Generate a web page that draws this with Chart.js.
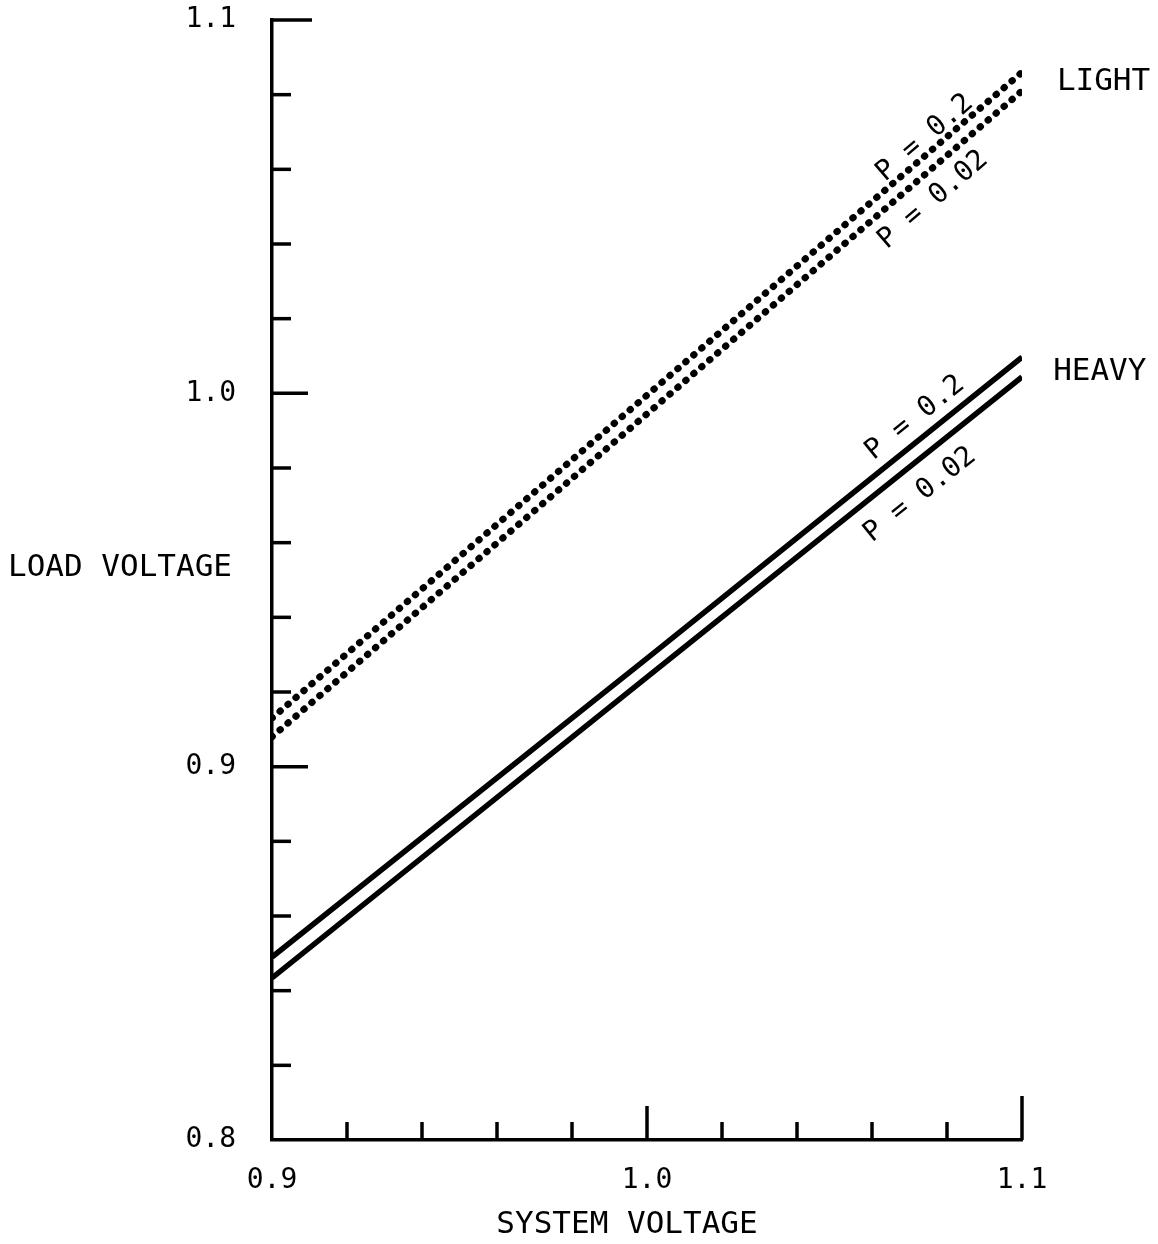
<!DOCTYPE html>
<html>
<head>
<meta charset="utf-8">
<script src="https://cdn.jsdelivr.net/npm/chart.js@4.4.1/dist/chart.umd.min.js"></script>
<style>
body { margin: 0; background: #fff; }
canvas { display: block; }
</style>
</head>
<body>
<canvas id="line-chart" width="1158" height="1244"></canvas>
<script>
// values
const systemVoltage = [0.9, 1.0, 1.1];
const lightP02 = [0.913, 0.9995, 1.086];
const lightP002 = [0.908, 0.9945, 1.081];
const heavyP02 = [0.849, 0.929, 1.0097];
const heavyP002 = [0.8434, 0.924, 1.0044];
const yTickLabels = [0.8, 0.9, 1.0, 1.1];
const xTickLabels = [0.9, 1.0, 1.1];

const FONT = '"DejaVu Sans Mono", monospace';

function pts(vals) {
	return systemVoltage.map((x, i) => ({ x: x, y: vals[i] }));
}
function isLabel(list, v) {
	return list.some(t => Math.abs(t - v) < 1e-6);
}

// text placed on the plot (data coordinates)
const notes = [
	{ text: 'P = 0.2', x: 1.0741, y: 1.0684, series: lightP02 },
	{ text: 'P = 0.02', x: 1.0763, y: 1.0518, series: lightP002 },
	{ text: 'P = 0.2', x: 1.0715, y: 0.9934, series: heavyP02 },
	{ text: 'P = 0.02', x: 1.0728, y: 0.9728, series: heavyP002 }
];
const caseNames = [
	{ text: 'LIGHT', x: 1.1093, y: 1.0834 },
	{ text: 'HEAVY', x: 1.1083, y: 1.0057 }
];

const decor = {
	id: 'decor',
	afterDraw(chart) {
		const ctx = chart.ctx;
		const xs = chart.scales.x, ys = chart.scales.y;
		const area = chart.chartArea;
		ctx.save();
		ctx.strokeStyle = '#000';
		ctx.lineWidth = 3.5;
		ctx.lineCap = 'butt';
		// inward ticks on y axis
		ys.ticks.forEach(t => {
			if (Math.abs(t.value - 0.8) < 1e-6) return;
			const py = ys.getPixelForValue(t.value);
			let len = isLabel(yTickLabels, t.value) ? 36 : 19;
			if (Math.abs(t.value - 1.1) < 1e-6) len = 40;
			ctx.beginPath();
			ctx.moveTo(area.left, py);
			ctx.lineTo(area.left + len, py);
			ctx.stroke();
		});
		// inward ticks on x axis
		xs.ticks.forEach(t => {
			if (Math.abs(t.value - 0.9) < 1e-6) return;
			const px = xs.getPixelForValue(t.value);
			let len = isLabel(xTickLabels, t.value) ? 34 : 18;
			if (Math.abs(t.value - 1.1) < 1e-6) len = 44;
			ctx.beginPath();
			ctx.moveTo(px, area.bottom);
			ctx.lineTo(px, area.bottom - len);
			ctx.stroke();
		});

		ctx.fillStyle = '#000';
		// P labels along the lines
		ctx.font = '28px ' + FONT;
		ctx.textAlign = 'center';
		ctx.textBaseline = 'middle';
		notes.forEach(n => {
			const x0 = xs.getPixelForValue(systemVoltage[0]);
			const x1 = xs.getPixelForValue(systemVoltage[systemVoltage.length - 1]);
			const y0 = ys.getPixelForValue(n.series[0]);
			const y1 = ys.getPixelForValue(n.series[n.series.length - 1]);
			const ang = Math.atan2(y1 - y0, x1 - x0);
			ctx.save();
			ctx.translate(xs.getPixelForValue(n.x), ys.getPixelForValue(n.y));
			ctx.rotate(ang);
			ctx.fillText(n.text, 0, 0);
			ctx.restore();
		});
		// LIGHT / HEAVY
		ctx.font = '31px ' + FONT;
		ctx.textAlign = 'left';
		caseNames.forEach(n => {
			ctx.fillText(n.text, xs.getPixelForValue(n.x), ys.getPixelForValue(n.y));
		});
		// axis titles
		ctx.fillText('LOAD VOLTAGE', 8, 568);
		ctx.textAlign = 'center';
		ctx.fillText('SYSTEM VOLTAGE', 627, 1225);
		ctx.restore();
	}
};

const dotted = { borderDash: [0.5, 10], borderCapStyle: 'round', borderWidth: 7 };
const solid = { borderWidth: 5.5, borderCapStyle: 'butt' };

let chart = new Chart(document.getElementById('line-chart'), {
	type: 'line',
	data: {
		datasets: [
			Object.assign({ label: 'LIGHT P = 0.2', data: pts(lightP02) }, dotted),
			Object.assign({ label: 'LIGHT P = 0.02', data: pts(lightP002) }, dotted),
			Object.assign({ label: 'HEAVY P = 0.2', data: pts(heavyP02) }, solid),
			Object.assign({ label: 'HEAVY P = 0.02', data: pts(heavyP002) }, solid)
		].map(d => Object.assign(d, { borderColor: '#000', pointRadius: 0, fill: false, tension: 0 }))
	},
	options: {
		responsive: false,
		animation: false,
		devicePixelRatio: 1,
		layout: { padding: { top: 20, right: 136, left: 0, bottom: 0 } },
		plugins: { legend: { display: false }, tooltip: { enabled: false } },
		scales: {
			x: {
				type: 'linear',
				min: 0.9,
				max: 1.1,
				afterFit(scale) {
					scale.height = 104;
					scale.paddingLeft = 0;
					scale.paddingRight = 0;
				},
				grid: { display: false, drawTicks: false },
				border: { display: true, color: '#000', width: 3.5 },
				ticks: {
					stepSize: 0.02,
					autoSkip: false,
					maxRotation: 0,
					padding: 24,
					color: '#000',
					font: { family: FONT, size: 28 },
					callback: v => isLabel(xTickLabels, v) ? v.toFixed(1) : ''
				}
			},
			y: {
				type: 'linear',
				min: 0.8,
				max: 1.1,
				afterFit(scale) {
					scale.width = 272;
					scale.paddingTop = 0;
					scale.paddingBottom = 0;
				},
				grid: { display: false, drawTicks: false },
				border: { display: true, color: '#000', width: 3.5 },
				ticks: {
					stepSize: 0.02,
					autoSkip: false,
					padding: 36,
					color: '#000',
					font: { family: FONT, size: 28 },
					callback: v => isLabel(yTickLabels, v) ? v.toFixed(1) : ''
				}
			}
		}
	},
	plugins: [decor]
});
</script>
</body>
</html>
